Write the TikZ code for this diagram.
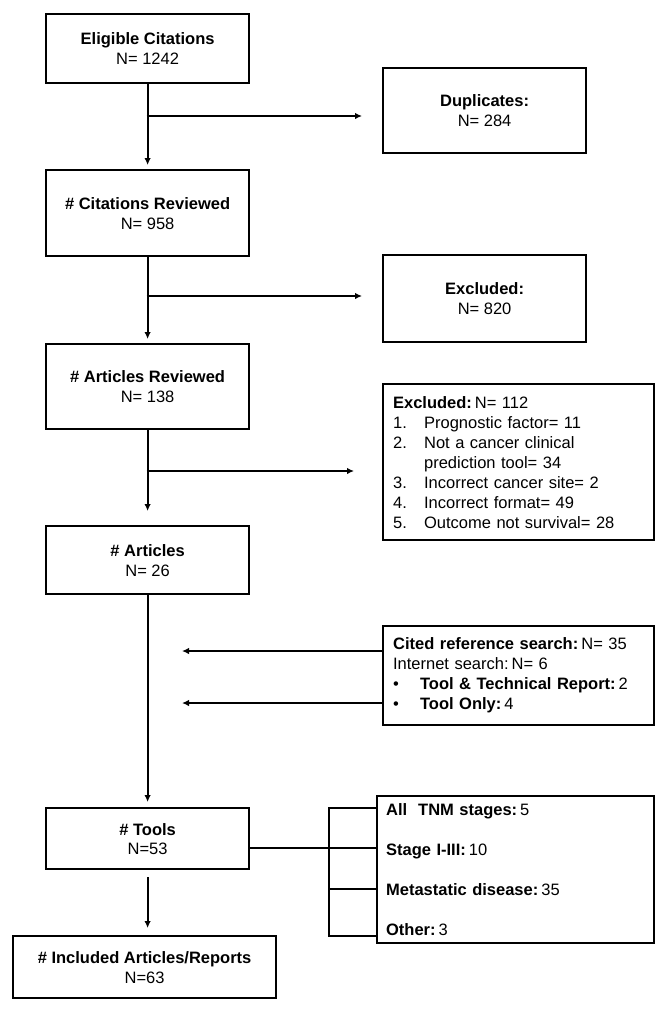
\documentclass[tikz,border=0pt]{standalone}
\usepackage{fontspec}
\setmainfont{Liberation Sans}
\usetikzlibrary{arrows.meta,calc}
\newcommand\fsz{\fontsize{16.5}{20}\selectfont}
\newcommand\sgap{\hspace{3pt}}
\begin{document}
\begin{tikzpicture}[x=1pt,y=-1pt,
  box/.style={draw, line width=2.2pt, inner sep=0pt, align=center, font=\fsz, anchor=north west},
  listbox/.style={draw, line width=2.2pt, inner ysep=0pt, align=left, font=\fsz, anchor=north west},
  conn/.style={line width=2pt},
  arr/.style={line width=2pt, -{Latex[length=7pt,width=6.5pt]}}]
\useasboundingbox (0,0) rectangle (666,1010);
% main column
\node[box, minimum width=203pt, minimum height=69pt] (b1) at (45,13) {\textbf{Eligible Citations}\\N= 1242};
\node[box, minimum width=203pt, minimum height=86pt] (b2) at (45,169) {\textbf{\# Citations Reviewed}\\N= 958};
\node[box, minimum width=203pt, minimum height=85pt] (b3) at (45,343) {\textbf{\# Articles Reviewed}\\N= 138};
\node[box, minimum width=203pt, minimum height=68pt] (b4) at (45,525) {\textbf{\# Articles}\\N= 26};
\node[box, minimum width=203pt, minimum height=61pt] (tools) at (45,807) {\textbf{\# Tools}\\[-1pt]N=53};
\node[box, minimum width=263pt, minimum height=62pt] (incl) at (12,935) {\textbf{\# Included Articles/Reports}\\N=63};
% side boxes
\node[box, minimum width=203pt, minimum height=85pt] (dup) at (382,67) {\textbf{Duplicates:}\\N= 284};
\node[box, minimum width=203pt, minimum height=87pt] (exc1) at (382,254) {\textbf{Excluded:}\\N= 820};
\node[listbox, inner xsep=10pt, text width=251pt, minimum height=156pt] (exc2) at (382,383) {%
\textbf{Excluded:}\sgap N= 112\\
\makebox[31pt][l]{1.}Prognostic factor= 11\\
\makebox[31pt][l]{2.}Not a cancer clinical\\
\hspace*{31pt}prediction tool= 34\\
\makebox[31pt][l]{3.}Incorrect cancer site= 2\\
\makebox[31pt][l]{4.}Incorrect format= 49\\
\makebox[31pt][l]{5.}Outcome not survival= 28};
\node[listbox, inner xsep=10pt, text width=251pt, minimum height=99pt] (cited) at (382,625) {%
\textbf{Cited reference search:}\sgap N= 35\\
Internet search:\sgap N= 6\\
\makebox[27pt][l]{\textbullet}\textbf{Tool \& Technical Report:}\sgap 2\\
\makebox[27pt][l]{\textbullet}\textbf{Tool Only:}\sgap 4};
\node[listbox, inner xsep=9pt, text width=259pt, minimum height=147pt] (stages) at (376,795) {%
\textbf{All\ \ TNM stages:}\sgap 5\\[20pt]
\textbf{Stage I-III:}\sgap 10\\[20pt]
\textbf{Metastatic disease:}\sgap 35\\[20pt]
\textbf{Other:}\sgap 3};
% coordinates
\coordinate (j1) at (146.5,116);
\coordinate (j2) at (146.5,296);
\coordinate (j3) at (146.5,471);
\coordinate (ca) at (182,651);
\coordinate (cb) at (182,703);
\coordinate (tj) at (248,848);
\coordinate (br1) at (329,808);
\coordinate (br3) at (329,889);
\coordinate (br4) at (329,936);
% connectors
\draw[arr, shorten >=4pt] (b1) -- (b2);
\draw[arr, shorten >=20pt] (j1) -- (j1 -| dup.west);
\draw[arr, shorten >=4pt] (b2) -- (b3);
\draw[arr, shorten >=20pt] (j2) -- (j2 -| exc1.west);
\draw[arr, shorten >=14pt] (b3) -- (b4);
\draw[arr, shorten >=28pt] (j3) -- (j3 -| exc2.west);
\draw[arr, shorten >=5pt] (b4) -- (tools);
\draw[arr] (ca -| cited.west) -- (ca);
\draw[arr] (cb -| cited.west) -- (cb);
\draw[conn] (tj) -- (tj -| stages.west);
\draw[conn] (br1 -| stages.west) -- (br1) -- (br4) -- (br4 -| stages.west);
\draw[conn] (br3) -- (br3 -| stages.west);
\draw[arr, shorten <=7pt, shorten >=7pt] (tools.south) -- (tools.south |- incl.north);
\end{tikzpicture}
\end{document}
